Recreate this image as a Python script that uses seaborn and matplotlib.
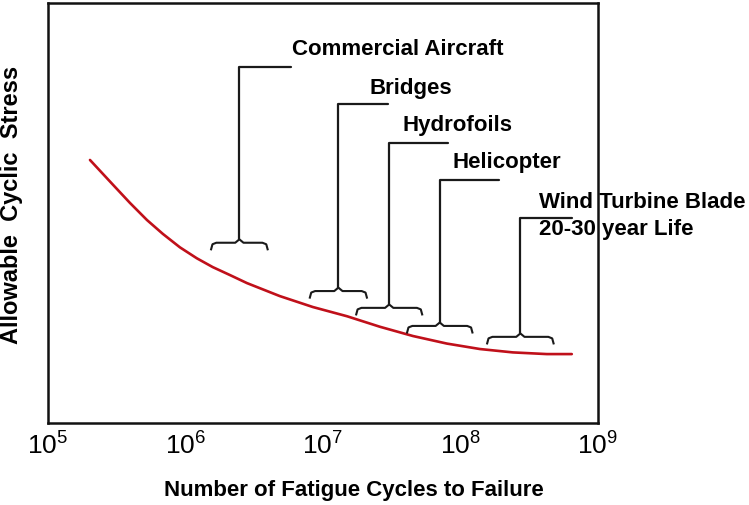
import numpy as np
import pandas as pd
import matplotlib
matplotlib.use("Agg")
import matplotlib.pyplot as plt
import seaborn as sns

# S-N curve (cycles, relative stress 0..1)
cycles = [2.02e5, 2.97e5, 3.94e5, 5.25e5, 6.85e5, 9.12e5, 1.21e6, 1.58e6, 2.11e6,
          2.8e6, 4.86e6, 8.45e6, 1.5e7, 2.6e7, 4.52e7, 7.98e7, 1.39e8, 2.41e8,
          4.26e8, 6.47e8]
stress = [0.626, 0.567, 0.524, 0.483, 0.45, 0.418, 0.392, 0.371, 0.352,
          0.333, 0.302, 0.276, 0.254, 0.229, 0.207, 0.189, 0.176, 0.168,
          0.164, 0.164]

# application ranges (braces)
apps = ["Commercial Aircraft", "Bridges", "Hydrofoils", "Helicopter",
        "Wind Turbine Blade\n20-30 year Life"]
brace_lo = [1.53e6, 8.0e6, 1.74e7, 4.08e7, 1.56e8]
brace_hi = [3.98e6, 2.1e7, 5.3e7, 1.23e8, 4.79e8]
brace_y = [0.429, 0.314, 0.274, 0.231, 0.205]
leader_y = [0.848, 0.76, 0.667, 0.579, 0.488]
leader_end = [5.85e6, 2.97e7, 8.1e7, 1.9e8, 6.45e8]
label_x = [6.0e6, 2.2e7, 3.8e7, 8.7e7, 3.75e8]
label_y = [0.89, 0.795, 0.707, 0.62, 0.493]

xticks = [1e5, 1e6, 1e7, 1e8, 1e9]

sns.set_style("white")
plt.rcParams["font.family"] = ["Liberation Sans", "DejaVu Sans"]
plt.rcParams["mathtext.default"] = "regular"

fig = plt.figure(figsize=(7.49, 5.05), dpi=100)
ax = fig.add_axes([0.0641, 0.1624, 0.734, 0.832])

df = pd.DataFrame({"cycles": cycles, "stress": stress})
sns.lineplot(data=df, x="cycles", y="stress", color="#c0101a", linewidth=1.9, ax=ax)

ax.set_xscale("log")
ax.set_xlim(1e5, 1e9)
ax.set_ylim(0, 1)

bc = "#1a1a1a"
for i in range(len(apps)):
    l0, l1 = np.log10(brace_lo[i]), np.log10(brace_hi[i])
    lm = (l0 + l1) / 2
    y = brace_y[i]
    d = 0.018
    e = 0.04
    c = 0.03
    bx = [l0, l0 + e * 0.3, l0 + e, lm - c, lm, lm + c, l1 - e, l1 - e * 0.3, l1]
    by = [y - d, y - d * 0.2, y, y, y + d * 0.45, y, y, y - d * 0.2, y - d]
    ax.plot(10 ** np.array(bx), by, color=bc, lw=1.5, solid_capstyle="butt")
    # leader line
    ax.plot([10 ** lm, 10 ** lm, leader_end[i]], [y + d * 0.45, leader_y[i], leader_y[i]],
            color=bc, lw=1.6)
    ax.text(label_x[i], label_y[i], apps[i], fontsize=16, fontweight="bold",
            color="black", ha="left", va="center", linespacing=1.35,
            clip_on=False, zorder=2)

ax.set_xticks(xticks)
ax.minorticks_off()
ax.tick_params(axis="x", length=0, labelsize=19, pad=7, labelcolor="black")
ax.set_yticks([])
for s in ax.spines.values():
    s.set_linewidth(1.8)
    s.set_color("#111111")
    s.set_zorder(3)

ax.set_xlabel("Number of Fatigue Cycles to Failure", fontsize=16,
              fontweight="bold", color="black")
ax.xaxis.set_label_coords(0.556, -0.135)
ax.set_ylabel("Allowable  Cyclic  Stress", fontsize=17, fontweight="bold",
              color="black")
ax.yaxis.set_label_coords(-0.045, 0.52)

fig.savefig("out.png", dpi=100)
